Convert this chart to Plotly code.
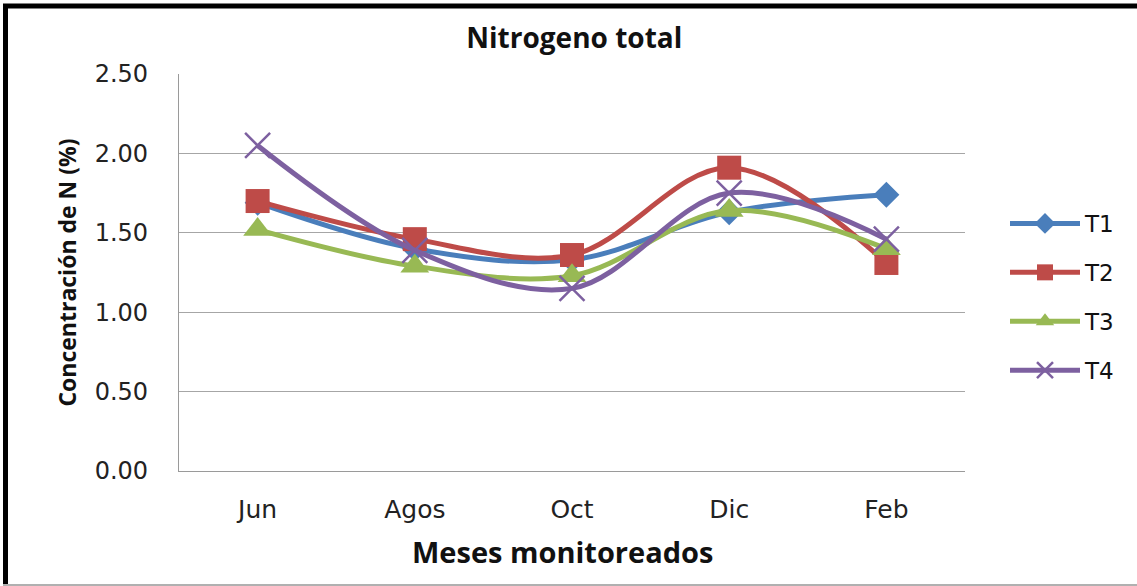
import plotly.graph_objects as go

months = ["Jun", "Agos", "Oct", "Dic", "Feb"]
t1 = [1.69, 1.40, 1.33, 1.63, 1.74]
t2 = [1.70, 1.46, 1.36, 1.91, 1.31]
t3 = [1.52, 1.29, 1.23, 1.64, 1.40]
t4 = [2.05, 1.39, 1.15, 1.75, 1.46]
y_ticks = [0.0, 0.5, 1.0, 1.5, 2.0, 2.5]

W, H = 1137, 586
L, R, T, B = 179, 965, 74, 471

def px(x):
    return (x - L) / (R - L)

def py(y):
    return (B - y) / (B - T)

series = [
    ("T1", t1, "#4A7EBB", dict(symbol="diamond", size=20)),
    ("T2", t2, "#BE4B48", dict(symbol="square", size=24)),
    ("T3", t3, "#98B954", dict(symbol="triangle-up", size=25)),
    ("T4", t4, "#7D60A0", dict(symbol="x-thin-open", size=25, line=dict(width=2.5, color="#7D60A0"))),
]

fig = go.Figure()
for name, vals, color, mk in series:
    fig.add_trace(go.Scatter(
        x=months, y=vals, name=name, mode="lines+markers",
        line=dict(color=color, width=5, shape="spline", smoothing=1.0),
        marker=dict(color=color, **mk),
        legendgroup=name,
    ))

fig.update_layout(
    width=W, height=H,
    margin=dict(l=L, r=W - R, t=T, b=H - B, pad=0),
    paper_bgcolor="white", plot_bgcolor="white",
    font=dict(family="DejaVu Sans", size=24, color="#222"),
    title=dict(text="<b>Nitrogeno total</b>", x=px(576), xanchor="center",
               y=1 - 38 / H, yanchor="middle",
               font=dict(family="Open Sans", size=28, color="#111")),
    showlegend=True,
    legend=dict(x=px(1005), xanchor="left", y=py(297), yanchor="middle",
                font=dict(family="DejaVu Sans", size=23, color="#111"),
                tracegroupgap=16, itemwidth=70, bgcolor="rgba(0,0,0,0)"),
    xaxis=dict(
        type="category", range=[-0.5, 4.5],
        showgrid=False, showline=True, linecolor="#9a9a9a", linewidth=1.2,
        ticks="", ticklabelstandoff=16,
        tickfont=dict(family="DejaVu Sans", size=25, color="#222"),
    ),
    yaxis=dict(
        range=[0, 2.5], tickvals=y_ticks, tickformat=".2f",
        showgrid=True, gridcolor="#a6a6a6", gridwidth=1.2,
        showline=True, linecolor="#9a9a9a", linewidth=1.2,
        ticks="", ticklabelstandoff=25, zeroline=False,
        tickfont=dict(family="DejaVu Sans", size=24, color="#222"),
        title=dict(text="<b>Concentración de N (%)</b>", standoff=11,
                   font=dict(family="Open Sans", size=23, color="#111")),
    ),
    annotations=[
        dict(text="<b>Meses monitoreados</b>", xref="paper", yref="paper",
             x=px(562), y=py(551), xanchor="center", yanchor="middle",
             showarrow=False, font=dict(family="Open Sans", size=29, color="#111")),
    ],
    shapes=[
        dict(type="line", xref="paper", yref="paper",
             x0=px(3), x1=px(W), y0=py(6), y1=py(6),
             line=dict(color="black", width=5)),
        dict(type="line", xref="paper", yref="paper",
             x0=px(5.5), x1=px(5.5), y0=py(4), y1=py(H),
             line=dict(color="black", width=5)),
        dict(type="line", xref="paper", yref="paper",
             x0=px(3), x1=px(W), y0=py(585), y1=py(585),
             line=dict(color="#b0b0b0", width=2)),
    ],
)

fig.write_html(
    "out.html",
    config={"displayModeBar": False},
    post_script="document.body.style.margin='0';document.body.style.overflow='hidden';",
)
